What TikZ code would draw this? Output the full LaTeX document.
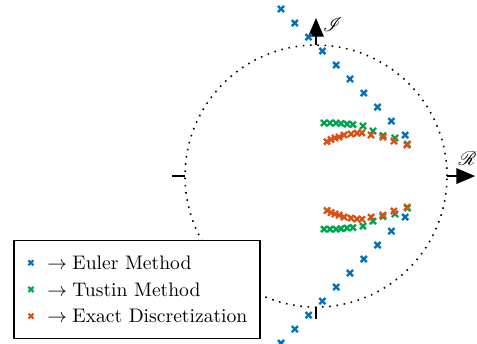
\documentclass[tikz,border=0pt]{standalone}
\usepackage{mathrsfs}
\usetikzlibrary{arrows.meta,positioning}
\definecolor{eulercolor}{RGB}{0,114,189}
\definecolor{tustincolor}{RGB}{0,165,80}
\definecolor{exactcolor}{RGB}{217,83,25}

\begin{document}
\begin{tikzpicture}[x=2.35cm, y=2.35cm,
    polemark/.style={only marks, mark=x, mark size=2.2pt, mark options={line width=1.2pt}},
    legendmark/.style={only marks, mark=x, mark size=1.8pt, mark options={line width=1.1pt}},
    axisarrow/.style={line width=0.6pt, -{Triangle[length=9.5pt, width=8pt]}},
    legendtext/.style={anchor=west, inner sep=0pt}]
  \useasboundingbox (-2.412,-1.275) rectangle (1.229,1.344);

  \draw[line width=0.8pt, dash pattern=on 0.8pt off 2.9pt] (0,0) circle (1); % unit circle

  % axes
  \coordinate (o) at (0,0);
  \coordinate (retip) at (1.214,0);
  \coordinate (imtip) at (0,1.206);
  \draw[axisarrow] (1,0) -- (retip);
  \draw[axisarrow] (0,1) -- (imtip);
  \draw[line width=0.6pt] (-1,0) -- (-1.1,0); % left tick
  \draw[line width=0.6pt] (0,-1) -- (0,-1.09); % bottom tick
  \node (relabel) at (1.156,0.134) {$\mathscr{R}$};
  \node (imlabel) at (0.128,1.156) {$\mathscr{I}$};

  \foreach \s in {1,-1}{
    \begin{scope}[yscale=\s]
      % euler poles
      \draw[eulercolor] plot[polemark, domain=0:9, samples=10]
        ({-0.267+0.1053*\x},{1.275-0.1069*\x});
      % tustin poles
      \draw[tustincolor] plot[polemark] coordinates {(0.061,0.405) (0.107,0.405)
        (0.153,0.405) (0.191,0.401) (0.237,0.397) (0.282,0.393) (0.359,0.382)
        (0.435,0.344) (0.511,0.309) (0.603,0.290) (0.698,0.244)};
      % exact poles
      \draw[exactcolor] plot[polemark] coordinates {(0.084,0.263) (0.115,0.279)
        (0.145,0.290) (0.176,0.298) (0.214,0.313) (0.267,0.321) (0.313,0.328)
        (0.351,0.330) (0.420,0.313) (0.511,0.298) (0.595,0.267) (0.695,0.237)};
    \end{scope}
  }

  % legend
  \draw[line width=0.6pt, fill=white] (-2.305,-0.494) rectangle (-0.427,-1.239);
  \draw[eulercolor] plot[legendmark] coordinates {(-2.176,-0.662)};
  \draw[tustincolor] plot[legendmark] coordinates {(-2.176,-0.865)};
  \draw[exactcolor] plot[legendmark] coordinates {(-2.176,-1.069)};
  \node[legendtext] (eulerlabel) at (-2.053,-0.662) {$\rightarrow\;$Euler Method};
  \node[legendtext] (tustinlabel) at (-2.053,-0.865) {$\rightarrow\;$Tustin Method};
  \node[legendtext] (exactlabel) at (-2.053,-1.069) {$\rightarrow\;$Exact Discretization};
\end{tikzpicture}
\end{document}
